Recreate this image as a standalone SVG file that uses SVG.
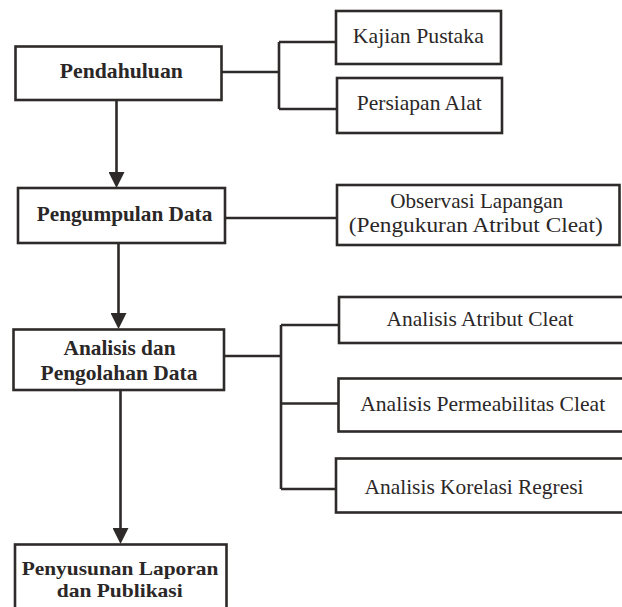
<svg xmlns="http://www.w3.org/2000/svg" width="622" height="607" viewBox="0 0 622 607">
<style>
.box{fill:#fff;stroke:#2e2a2a;stroke-width:2.6}
.ln{fill:none;stroke:#2e2a2a;stroke-width:2.6}
text{font-size:21px;fill:#2b2727;text-anchor:middle}
.b{font-weight:bold}
.s{font-size:19px}
</style>
<defs>
<marker id="ah" viewBox="0 0 16 16" markerWidth="16" markerHeight="16" refX="0" refY="8" orient="auto" markerUnits="userSpaceOnUse">
<path d="M0,0 L16,8 L0,16 z" fill="#2e2a2a"/>
</marker>
</defs>
<rect width="622" height="607" fill="#fff"/>
<g id="connectors">
<path class="ln" d="M221.5,72 H279 M279,42 V109 M279,42 H336 M279,109 H337"/>
<path class="ln" d="M225,218 H337"/>
<path class="ln" d="M224,356 H281 M281,325 V489 M281,325 H339 M281,403.5 H338.5 M281,489 H336"/>
<path class="ln" d="M116.5,100 V172" marker-end="url(#ah)"/>
<path class="ln" d="M118.5,243 V313" marker-end="url(#ah)"/>
<path class="ln" d="M120.5,390 V528" marker-end="url(#ah)"/>
</g>
<g font-family="'Liberation Serif', 'DejaVu Serif', 'Times New Roman', serif">
<g id="pendahuluan">
<rect class="box" x="15.5" y="46.5" width="206" height="53.5"/>
<text class="b" x="121.3" y="77.5" textLength="123" lengthAdjust="spacingAndGlyphs">Pendahuluan</text>
</g>
<g id="kajian">
<rect class="box" x="336" y="11" width="165" height="53"/>
<text x="418.3" y="42.5" textLength="131" lengthAdjust="spacingAndGlyphs">Kajian Pustaka</text>
</g>
<g id="persiapan">
<rect class="box" x="337" y="78" width="165" height="55"/>
<text x="419.2" y="110" textLength="125" lengthAdjust="spacingAndGlyphs">Persiapan Alat</text>
</g>
<g id="pengumpulan">
<rect class="box" x="18" y="188" width="207" height="55"/>
<text class="b" x="124.5" y="220.5" textLength="175.6" lengthAdjust="spacingAndGlyphs">Pengumpulan Data</text>
</g>
<g id="observasi">
<rect class="box" x="337" y="185" width="282.5" height="60"/>
<text x="476.7" y="208" textLength="173" lengthAdjust="spacingAndGlyphs">Observasi Lapangan</text>
<text x="475.7" y="232" textLength="254" lengthAdjust="spacingAndGlyphs">(Pengukuran Atribut Cleat)</text>
</g>
<g id="analisis">
<rect class="box" x="13.5" y="329.5" width="210.5" height="60.5"/>
<text class="b" x="119.5" y="355" textLength="112" lengthAdjust="spacingAndGlyphs">Analisis dan</text>
<text class="b" x="119" y="380" textLength="157" lengthAdjust="spacingAndGlyphs">Pengolahan Data</text>
</g>
<g id="atribut">
<rect class="box" x="339" y="297" width="290" height="46"/>
<text x="480" y="326" textLength="187" lengthAdjust="spacingAndGlyphs">Analisis Atribut Cleat</text>
</g>
<g id="permeabilitas">
<rect class="box" x="338.5" y="378.5" width="290" height="53"/>
<text x="482.7" y="411" textLength="245" lengthAdjust="spacingAndGlyphs">Analisis Permeabilitas Cleat</text>
</g>
<g id="korelasi">
<rect class="box" x="336" y="458.5" width="292" height="54"/>
<text x="474" y="494" textLength="219" lengthAdjust="spacingAndGlyphs">Analisis Korelasi Regresi</text>
</g>
<g id="penyusunan">
<rect class="box" x="15" y="544.5" width="211.5" height="80"/>
<text class="b s" x="120" y="574.5" textLength="196.7" lengthAdjust="spacingAndGlyphs">Penyusunan Laporan</text>
<text class="b s" x="119.7" y="596.5" textLength="126" lengthAdjust="spacingAndGlyphs">dan Publikasi</text>
</g>
</g>
</svg>
